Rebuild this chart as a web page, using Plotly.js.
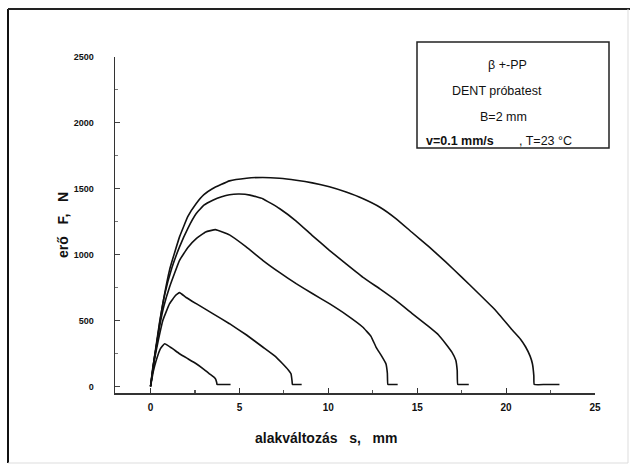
<!DOCTYPE html>
<html><head><meta charset="utf-8">
<script src="https://cdn.plot.ly/plotly-3.0.1.min.js"></script>
<style>body{margin:0;background:#fff}#c{width:630px;height:468px}</style>
</head><body><div id="c"></div>
<script>
// Curve data: displacement s (mm) and force F (N)
const s1 = [0, 0.15, 0.32, 0.55, 0.79, 1.2, 1.63, 2.1, 2.57, 3.0, 3.31, 3.55, 3.65, 3.72, 3.74, 4.0, 4.5];
const F1 = [0, 110, 198, 285, 324, 290, 248, 210, 172, 130, 96, 72, 58, 30, 15, 15, 15];

const s2 = [0, 0.2, 0.45, 0.69, 1.07, 1.4, 1.63, 2.0, 2.57, 3.5, 4.44, 5.4, 6.31, 7.0, 7.43, 7.75, 7.9, 7.96, 7.98, 8.2, 8.5];
const F2 = [0, 190, 360, 501, 628, 690, 712, 675, 628, 552, 476, 390, 299, 230, 172, 125, 96, 40, 15, 15, 15];

const s3 = [0, 0.2, 0.5, 0.75, 1.07, 1.63, 2.1, 2.57, 3.1, 3.65, 4.44, 5.38, 6.31, 7.25, 8.19, 9.1, 10.06, 11.0, 11.93, 12.4, 12.68, 13.0, 13.24, 13.32, 13.35, 13.6, 13.9];
const F3 = [0, 200, 450, 610, 755, 957, 1055, 1122, 1172, 1190, 1150, 1059, 957, 865, 780, 705, 628, 545, 451, 380, 299, 230, 172, 100, 15, 15, 15];

const s4 = [0, 0.2, 0.5, 0.8, 1.2, 1.63, 2.1, 2.57, 3.0, 3.5, 4.0, 4.44, 5.0, 5.6, 6.31, 7.25, 8.19, 9.1, 10.06, 11.0, 11.93, 12.9, 13.8, 14.7, 15.67, 16.2, 16.6, 16.95, 17.17, 17.25, 17.28, 17.6, 17.9];
const F4 = [0, 205, 480, 700, 900, 1059, 1200, 1312, 1375, 1413, 1440, 1455, 1460, 1452, 1425, 1350, 1255, 1145, 1033, 930, 830, 740, 653, 555, 451, 390, 324, 260, 198, 120, 15, 15, 15];

const s5 = [0, 0.13, 0.32, 0.51, 0.69, 1.1, 1.63, 2.1, 2.57, 3.0, 3.5, 4.44, 5.4, 6.31, 7.25, 8.19, 9.1, 10.06, 11.0, 11.93, 12.9, 13.8, 14.7, 15.67, 16.6, 17.5, 18.45, 19.4, 20.36, 20.8, 21.1, 21.35, 21.48, 21.56, 21.58, 22.2, 23.0];
const F5 = [0, 147, 299, 476, 628, 900, 1135, 1290, 1388, 1455, 1502, 1560, 1580, 1586, 1580, 1565, 1545, 1515, 1475, 1426, 1360, 1274, 1170, 1059, 945, 830, 705, 578, 426, 360, 299, 230, 172, 80, 15, 15, 15];

const xTickVals = [0, 5, 10, 15, 20, 25];
const yTickVals = [0, 500, 1000, 1500, 2000, 2500];

const curves = [[s1, F1], [s2, F2], [s3, F3], [s4, F4], [s5, F5]];
const traces = curves.map(c => ({
  x: c[0], y: c[1], mode: 'lines', type: 'scatter',
  line: {color: '#111', width: 1.6, shape: 'spline', smoothing: 0.3},
  hoverinfo: 'skip', showlegend: false
}));

const X = px => (px - 115) / 480;
const Y = py => (393 - py) / 336;
const bold = 'Liberation Sans, Arial, sans-serif';

function note(px, py, text, opts) {
  return Object.assign({xref: 'paper', yref: 'paper', x: X(px), y: Y(py), text: text, showarrow: false,
    xanchor: 'center', yanchor: 'middle',
    font: {family: 'Liberation Sans, Arial', size: 12.5, color: '#111'}}, opts || {});
}

const layout = {
  width: 630, height: 468,
  margin: {l: 115, r: 35, t: 57, b: 75},
  paper_bgcolor: '#fff', plot_bgcolor: '#fff',
  showlegend: false,
  xaxis: {
    range: [-2, 25], tickvals: xTickVals, ticktext: xTickVals.map(String),
    showgrid: false, zeroline: false, showline: true, linecolor: '#333', linewidth: 1.5,
    ticks: 'inside', ticklen: 5, tickcolor: '#333', tickwidth: 1.2,
    minor: {dtick: 2.5, tick0: 0, ticks: 'inside', ticklen: 3, tickcolor: '#555'},
    tickfont: {family: bold, size: 10, color: '#111', weight: 'bold'},
    ticklabelstandoff: 4
  },
  yaxis: {
    range: [-50, 2500], tickvals: yTickVals, ticktext: yTickVals.map(String),
    showgrid: false, zeroline: false, showline: true, linecolor: '#333', linewidth: 1.5,
    ticks: 'inside', ticklen: 5, tickcolor: '#444', tickwidth: 1,
    minor: {dtick: 250, tick0: 0, ticks: 'inside', ticklen: 3, tickcolor: '#777'},
    tickfont: {family: bold, size: 9, color: '#111', weight: 'bold'},
    ticklabelstandoff: 18
  },
  shapes: [
    {type: 'line', xref: 'paper', yref: 'paper', x0: X(8), x1: X(8), y0: Y(9), y1: Y(463), line: {color: '#111', width: 2}},
    {type: 'line', xref: 'paper', yref: 'paper', x0: X(8), x1: X(630), y0: Y(9), y1: Y(9), line: {color: '#222', width: 2}},
    {type: 'line', xref: 'paper', yref: 'paper', x0: X(8), x1: X(628), y0: Y(463), y1: Y(463), line: {color: '#ddd', width: 1}},
    {type: 'line', xref: 'paper', yref: 'paper', x0: X(628), x1: X(628), y0: Y(9), y1: Y(463), line: {color: '#ddd', width: 1}},
    {type: 'rect', xref: 'paper', yref: 'paper', x0: X(417), x1: X(609), y0: Y(148), y1: Y(42), line: {color: '#222', width: 1.5}, fillcolor: 'rgba(0,0,0,0)'}
  ],
  annotations: [
    note(326, 438, 'alakváltozás   s,   mm', {font: {family: bold, size: 14, color: '#111', weight: 'bold'}}),
    note(63, 225, 'erő   F,   N', {textangle: -90, font: {family: bold, size: 14, color: '#111', weight: 'bold'}}),
    note(507, 65, 'β +-PP'),
    note(497, 91, 'DENT próbatest'),
    note(503, 117, 'B=2 mm'),
    note(424, 141, 'v=0.1 mm/s', {xanchor: 'left', font: {family: 'Liberation Sans, Arial', size: 12.5, color: '#111', weight: 'bold'}}),
    note(517, 141, ', T=23 °C', {xanchor: 'left'})
  ]
};

Plotly.newPlot('c', traces, layout, {staticPlot: true, displayModeBar: false});
</script></body></html>
